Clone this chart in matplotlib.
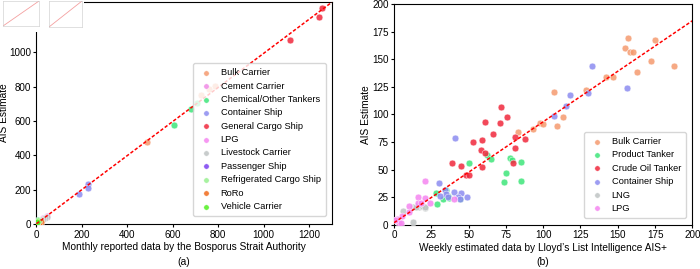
import numpy as np
import matplotlib
matplotlib.use("Agg")
import matplotlib.pyplot as plt

# ---- panel (a): monthly Bosporus data vs AIS estimate ----
cats_a = ["Bulk Carrier", "Cement Carrier", "Chemical/Other Tankers", "Container Ship",
          "General Cargo Ship", "LPG", "Livestock Carrier", "Passenger Ship",
          "Refrigerated Cargo Ship", "RoRo", "Vehicle Carrier"]
colors_a = ["#f59a6e", "#f08ae6", "#3ee67a", "#8c8cf0", "#f0283c", "#f585f0",
            "#bfc4c4", "#7a3ff0", "#98f090", "#f06a1a", "#50f020"]
x_a = {
    "Bulk Carrier": [788, 760, 723, 488, 30],
    "Cement Carrier": [12, 20],
    "Chemical/Other Tankers": [706, 680, 607, 8],
    "Container Ship": [229, 229, 186, 35],
    "General Cargo Ship": [1258, 1245, 1117, 22],
    "LPG": [45, 30],
    "Livestock Carrier": [45, 38, 28, 20],
    "Passenger Ship": [10],
    "Refrigerated Cargo Ship": [6, 14],
    "RoRo": [19, 12],
    "Vehicle Carrier": [5, 3],
}
y_a = {
    "Bulk Carrier": [802, 789, 752, 481, 28],
    "Cement Carrier": [15, 22],
    "Chemical/Other Tankers": [707, 670, 576, 23],
    "Container Ship": [233, 213, 174, 35],
    "General Cargo Ship": [1262, 1209, 1070, 18],
    "LPG": [46, 35],
    "Livestock Carrier": [42, 36, 30, 24],
    "Passenger Ship": [8],
    "Refrigerated Cargo Ship": [10, 16],
    "RoRo": [13, 8],
    "Vehicle Carrier": [20, 14],
}
fit_a = (0.993, 2.0)

# ---- panel (b): weekly Lloyd's List data vs AIS estimate ----
cats_b = ["Bulk Carrier", "Product Tanker", "Crude Oil Tanker", "Container Ship", "LNG", "LPG"]
colors_b = ["#f59a6e", "#3ee67a", "#f0283c", "#8c8cf0", "#bfc4c4", "#f585f0"]
x_b = {
    "Bulk Carrier": [157, 175, 155, 158, 160, 172, 188, 163, 142, 147, 129, 107, 113, 109,
                     98, 100, 93, 83],
    "Product Tanker": [62, 65, 50, 78, 79, 85, 75, 74, 85, 28, 35, 29, 33, 37, 44, 36],
    "Crude Oil Tanker": [72, 76, 61, 71, 66, 59, 53, 81, 88, 81, 58, 61, 39, 45, 59, 48, 50, 80],
    "Container Ship": [133, 156, 130, 118, 115, 107, 41, 30, 49, 45, 40, 34, 35, 31, 36, 43, 44],
    "LNG": [6, 13, 13, 17, 20.5, 19, 21, 16, 14.5],
    "LPG": [21, 16, 21, 10, 16, 18, 24, 10, 5.5, 2, 3.5, 4.5, 40.5, 0.5],
}
y_b = {
    "Bulk Carrier": [169, 167, 160, 157, 157, 148, 144, 138, 134, 134, 122, 120, 98, 90,
                     92, 91, 87, 84],
    "Product Tanker": [63, 60, 56, 61, 59, 57, 47, 39, 40, 29, 32, 19, 23, 24, 23, 26],
    "Crude Oil Tanker": [107, 98, 93, 92, 82, 77, 75, 80, 78, 70, 68, 65, 56, 53, 52, 45, 45, 56],
    "Container Ship": [144, 124, 119, 118, 108, 99, 79, 38, 25, 29, 30, 32, 28, 26, 25, 25, 23],
    "LNG": [13, 3, 16, 16.5, 15, 17.5, 16.5, 18, 16],
    "LPG": [40, 25, 24, 17.5, 20, 20, 20, 11.5, 8, 5.5, 2, 1.5, 23, 4],
}
fit_b = (0.914, 2.0)

plt.rcParams["font.family"] = ["Liberation Sans", "DejaVu Sans"]
fig = plt.figure(figsize=(7.0, 2.69), dpi=100)
ax1 = fig.add_axes([0.052, 0.167, 0.422, 0.826])
ax2 = fig.add_axes([0.563, 0.164, 0.426, 0.821])
dash = (0, (2.2, 1.3))
leg_kw = dict(loc="lower right", fontsize=6.7, markerscale=0.8, handletextpad=0.8,
              labelspacing=0.47, borderpad=0.55, handlelength=1.6, framealpha=0.8)

for c, col in zip(cats_a, colors_a):
    ax1.scatter(x_a[c], y_a[c], s=24, color=col, alpha=0.85, edgecolors="white",
                linewidths=0.4, label=c, zorder=3)
xx = np.array([0, 1300])
ax1.plot(xx, fit_a[0] * xx + fit_a[1], color="red", ls=dash, lw=1.1, zorder=4)
ax1.set_xlim(0, 1300)
ax1.set_ylim(0, 1295)
ax1.set_xticks([0, 200, 400, 600, 800, 1000, 1200])
ax1.set_yticks([0, 200, 400, 600, 800, 1000])
ax1.set_xlabel("Monthly reported data by the Bosporus Strait Authority", fontsize=7.3, labelpad=2)
ax1.set_ylabel("AIS Estimate", fontsize=7.3)
ax1.yaxis.set_label_coords(-0.093, 0.5)
ax1.tick_params(labelsize=7.1, length=2.5, pad=1.5)
ax1.legend(bbox_to_anchor=(0.995, 0.015), **leg_kw)
ax1.text(0.5, -0.17, "(a)", transform=ax1.transAxes, ha="center", va="center", fontsize=7.5)

for c, col in zip(cats_b, colors_b):
    ax2.scatter(x_b[c], y_b[c], s=24, color=col, alpha=0.85, edgecolors="white",
                linewidths=0.4, label=c, zorder=3)
xx = np.array([0, 200])
ax2.plot(xx, fit_b[0] * xx + fit_b[1], color="red", ls=dash, lw=1.1, zorder=4)
ax2.set_xlim(0, 200)
ax2.set_ylim(0, 200)
ax2.set_xticks(np.arange(0, 201, 25))
ax2.set_yticks(np.arange(0, 201, 25))
ax2.set_xlabel("Weekly estimated data by Lloyd\u2019s List Intelligence AIS+", fontsize=7.3, labelpad=2)
ax2.set_ylabel("AIS Estimate", fontsize=7.3, labelpad=1)
ax2.tick_params(labelsize=7.1, length=2.5, pad=1.5)
ax2.legend(bbox_to_anchor=(0.995, 0.01), **leg_kw)
ax2.text(0.5, -0.17, "(b)", transform=ax2.transAxes, ha="center", va="center", fontsize=7.5)

# small thumbnail patch in the top left corner
fig.patches.append(plt.Rectangle((0, 1 - 32 / 269), 84 / 700, 32 / 269, transform=fig.transFigure,
                                 facecolor="white", edgecolor="none", zorder=10))
for rect in ([3 / 700, 1 - 26 / 269, 36 / 700, 25 / 269], [49 / 700, 1 - 27 / 269, 33 / 700, 26 / 269]):
    th = fig.add_axes(rect, zorder=11)
    th.plot([0, 1], [0, 1], color="#f4a0a0", lw=0.6)
    th.set_xlim(0, 1)
    th.set_ylim(0, 1)
    th.set_xticks([])
    th.set_yticks([])
    for sp in th.spines.values():
        sp.set_color("#c8c8c8")
        sp.set_linewidth(0.4)

fig.savefig("out.png", dpi=100)
